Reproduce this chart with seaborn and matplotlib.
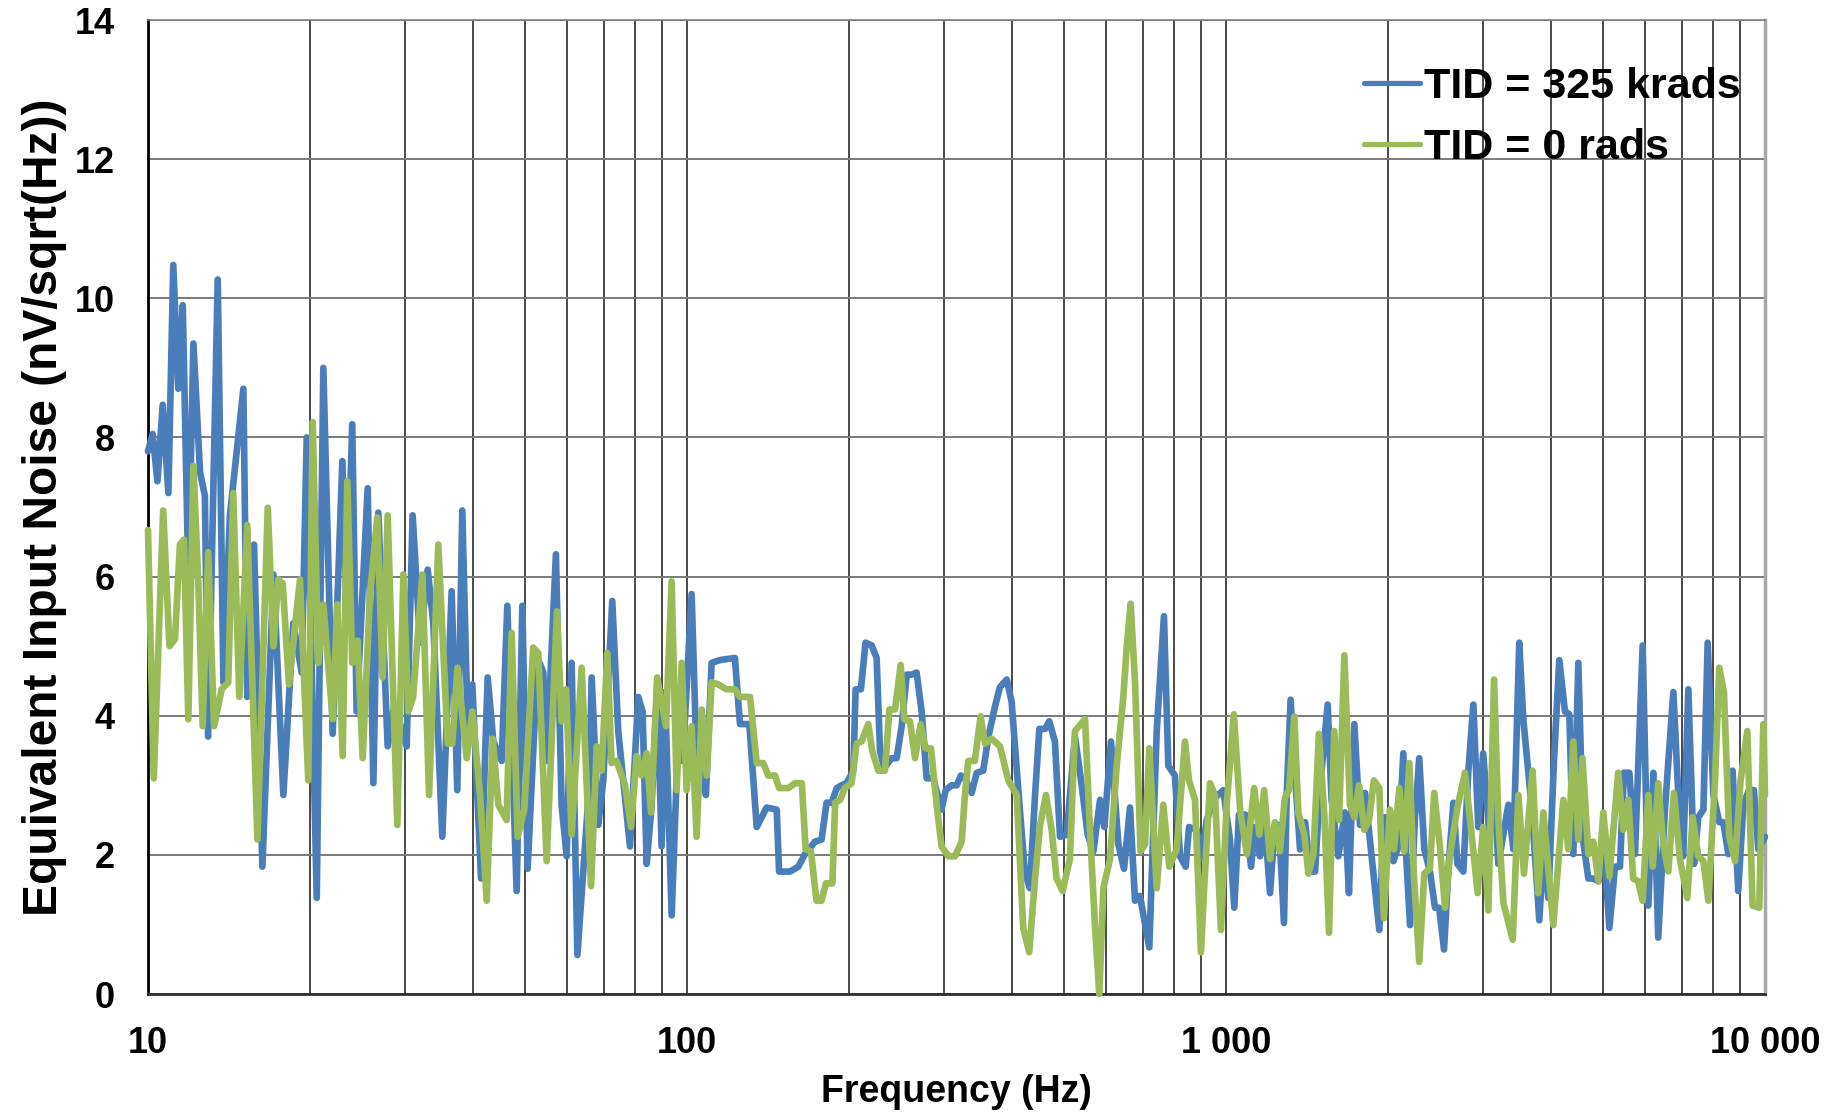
import pandas as pd
import matplotlib
matplotlib.use("Agg")
import matplotlib.pyplot as plt
import seaborn as sns
from matplotlib.ticker import FixedLocator, NullFormatter

# TID = 325 krads (blue)
blue_freq = [10.0, 10.2, 10.41, 10.65, 10.91, 11.14, 11.38, 11.6, 11.88, 12.14, 12.49, 12.75, 12.93, 13.47, 13.8,
             14.19, 15.03, 15.28, 15.73, 16.3, 17.09, 17.83, 18.6, 19.28, 19.7, 20.56, 21.15, 22.01, 22.94, 23.37,
             23.93, 24.38, 25.56, 26.19, 26.75, 27.84, 28.64, 30.19, 30.97, 31.97, 33.03, 33.83, 35.16, 36.59, 37.48,
             38.29, 39.18, 39.97, 41.49, 42.68, 43.72, 45.31, 46.41, 48.3, 49.49, 50.62, 52.84, 54.13, 54.91,
             57.12, 58.52, 59.81, 61.09, 62.61, 65.87, 66.55, 68.46, 69.93, 72.67, 74.54, 78.38, 81.21, 82.72, 84.17,
             85.98, 88.05, 89.72, 91.02, 93.66, 96.36, 98.17, 102.0, 104.2, 108.4, 111.1, 115.1, 122.7, 125.4, 130.5,
             134.7, 140.5, 146.7, 148.2, 155.3, 160.9, 165.5, 172.8, 177.7, 181.5, 185.5, 189.6, 193.6, 197.7, 203.5,
             205.5, 210.2, 214.4, 220.1, 224.8, 228.1, 232.3, 239.7, 244.9, 250.2, 255.6, 261.1, 266.7, 272.5, 278.4,
             286.4, 296.7, 301.9, 309.8, 316.5, 322.3, 327.9, 337.4, 344.8, 354.5, 362.4, 372.7, 380.7, 391.9, 400.2,
             411.8, 423.7, 432.7, 442.3, 450.5, 461.6, 470.0, 481.5, 492.1, 506.2, 524.5, 539.9, 553.8, 567.5, 583.9,
             594.8, 611.8, 631.4, 646.8, 663.5, 678.0, 692.4, 720.6, 743.8, 767.2, 781.6, 803.9, 821.6, 841.7, 854.0,
             882.3, 901.0, 920.9, 954.0, 988.7, 1017, 1036, 1057, 1085, 1113, 1132, 1156, 1181, 1207, 1232, 1254,
             1281, 1296, 1318, 1343, 1372, 1402, 1432, 1463, 1494, 1544, 1570, 1616, 1662, 1691, 1730, 1773, 1811,
             1925, 1963, 2015, 2044, 2089, 2133, 2157, 2195, 2242, 2283, 2333, 2390, 2442, 2486, 2538, 2586, 2642,
             2687, 2756, 2816, 2877, 2938, 3000, 3080, 3156, 3201, 3341, 3413, 3500, 3561, 3665, 3744, 3813, 3890,
             3963, 4059, 4153, 4255, 4335, 4409, 4505, 4600, 4702, 4801, 4908, 5012, 5143, 5269, 5382, 5473, 5601,
             5738, 5930, 6075, 6208, 6338, 6521, 6760, 6903, 7051, 7207, 7384, 7520, 7686, 7828, 8020, 8225, 8368,
             8551, 8707, 8920, 9116, 9337, 9537, 9720, 10000]
blue_noise = [7.8, 8.05, 7.37, 8.47, 7.2, 10.48, 8.7, 9.9, 6.0, 9.35, 7.5, 7.16, 3.7, 10.27, 4.48,
              6.88, 8.7, 4.27, 6.46, 1.83, 6.03, 2.86, 5.33, 4.62, 8.0, 1.38, 9.0, 3.74, 7.66, 5.5,
              8.19, 4.06, 7.27, 3.03, 6.92, 3.56, 4.16, 3.56, 6.88, 5.05, 6.1, 5.33, 2.26, 5.79, 2.93,
              6.95, 3.81, 4.45, 1.66, 4.55, 3.63, 3.35, 5.58, 1.48, 5.58, 1.8, 4.83, 4.62, 3.35,
              6.32, 2.72, 1.98, 4.76, 0.56, 3.0, 4.55, 2.43, 3.07, 5.65, 3.78, 2.12, 4.27, 4.06, 1.87,
              2.72, 4.41, 2.12, 4.34, 1.13, 3.78, 3.35, 5.75, 3.35, 2.86, 4.76, 4.8, 4.83, 3.88, 3.88,
              2.4, 2.68, 2.65, 1.76, 1.76, 1.83, 2.01, 2.19, 2.22, 2.75, 2.75, 2.96, 3.0, 3.03, 3.21,
              4.38, 4.38, 5.05, 5.01, 4.83, 3.49, 3.25, 3.39, 3.39, 3.85, 4.59, 4.59, 4.62, 4.06, 3.1,
              3.1, 2.65, 2.93, 3.0, 3.0, 3.14, 3.1, 2.89, 3.18, 3.21, 3.7, 4.13, 4.41, 4.52, 4.2,
              2.93, 1.73, 1.52, 2.86, 3.81, 3.81, 3.92, 3.63, 2.26, 2.29, 3.7, 3.0, 2.29, 2.05, 2.79,
              2.4, 3.63, 2.15, 1.8, 2.68, 1.34, 1.41, 0.67, 3.78, 5.43, 3.28, 3.14, 1.98, 1.83, 2.4,
              2.36, 1.94, 2.5, 2.82, 2.93, 2.22, 1.24, 2.58, 2.58, 1.83, 2.4, 1.98, 2.43, 1.45, 2.43, 2.43,
              1.02, 2.86, 4.23, 3.14, 2.08, 2.47, 1.76, 1.76, 2.96, 4.16, 2.79, 1.98, 2.61, 1.45, 3.88, 2.43, 2.89,
              0.92, 2.54, 2.54, 1.91, 2.12, 3.46, 2.05, 0.99, 2.54, 3.39, 2.08, 1.76, 1.24, 1.24, 0.64, 1.8, 2.75,
              1.87, 1.76, 3.21, 4.16, 2.4, 3.46, 2.29, 2.75, 1.87, 2.72, 2.08, 5.05, 3.95, 2.93, 1.98, 1.06, 2.19,
              1.38, 3.35, 4.8, 4.06, 4.02, 2.01, 4.76, 2.19, 1.66, 1.66, 1.62, 2.26, 0.95, 1.83, 1.83, 3.18, 3.18,
              2.01, 5.01, 1.27, 3.18, 0.81, 2.65, 4.34, 2.89, 1.98, 4.38, 1.87, 2.54, 2.65, 5.05, 2.86, 2.47, 2.47,
              2.01, 3.21, 1.48, 2.72, 2.93, 2.93, 2.08, 2.26]

# TID = 0 rads (green)
green_freq = [10.0, 10.25, 10.67, 10.96, 11.22, 11.46, 11.66, 11.88, 12.14, 12.4, 12.63, 12.93, 13.26, 13.7, 14.09,
              14.39, 14.77, 15.28, 15.96, 16.68, 17.09, 17.45, 17.78, 18.26, 19.14, 19.83, 20.21, 20.7, 21.15, 22.01,
              22.45, 22.97, 23.43, 23.93, 24.48, 25.02, 25.82, 26.63, 27.24, 27.84, 29.01, 29.77, 30.4, 31.04, 32.29,
              33.22, 34.56, 35.97, 36.68, 37.52, 39.02, 39.97, 41.32, 42.5, 43.6, 44.66, 46.28, 47.28, 48.51, 49.9,
              51.84, 52.99, 54.91, 57.37, 58.52, 59.65, 61.09, 63.76, 66.37, 68.0, 69.44, 71.14, 72.45, 74.01, 76.74,
              78.71, 80.64, 82.37, 84.17, 85.74, 88.05, 91.39, 93.66, 95.68, 97.77, 99.85, 102.0, 104.2, 106.5, 108.8,
              111.1, 114.3, 118.4, 122.7, 125.4, 130.9, 134.7, 138.5, 141.5, 145.6, 148.2, 154.2, 158.6, 163.3, 166.0,
              169.8, 173.9, 177.7, 181.0, 186.1, 188.3, 192.3, 196.3, 202.0, 206.4, 210.8, 216.9, 220.7, 226.5, 232.9,
              237.4, 243.2, 249.1, 253.0, 259.2, 264.9, 271.3, 277.1, 283.6, 290.5, 296.7, 305.4, 314.2, 323.3, 327.8,
              332.6, 342.0, 350.5, 357.3, 367.5, 380.7, 394.5, 409.0, 420.5, 431.4, 442.3, 452.0, 463.5, 474.8, 485.0,
              497.6, 513.3, 524.5, 547.6, 559.2, 571.7, 582.0, 592.2, 609.3, 626.9, 644.9, 654.2, 665.4, 678.0, 694.3,
              707.5, 720.6, 743.8, 765.0, 785.0, 809.9, 839.2, 853.8, 876.0, 898.5, 913.9, 934.0, 954.0, 978.7, 1003,
              1034, 1062, 1093, 1128, 1153, 1177, 1207, 1232, 1259, 1286, 1309, 1339, 1362, 1397, 1422, 1453, 1487,
              1522, 1553, 1588, 1621, 1658, 1698, 1730, 1765, 1806, 1842, 1881, 1925, 1963, 2015, 2049, 2097, 2142,
              2188, 2233, 2283, 2333, 2390, 2434, 2494, 2549, 2605, 2687, 2775, 2856, 2930, 3000, 3067, 3143, 3201,
              3271, 3404, 3487, 3571, 3706, 3796, 3879, 4048, 4225, 4316, 4409, 4505, 4586, 4702, 4801, 4908, 5012,
              5143, 5342, 5460, 5577, 5695, 5816, 5930, 6075, 6190, 6338, 6475, 6616, 6777, 6951, 7177, 7342, 7520,
              7686, 7851, 8077, 8225, 8392, 8585, 8798, 9010, 9272, 9485, 9759, 9929, 10000]
green_noise = [6.67, 3.1, 6.95, 5.0, 5.1, 6.46, 6.53, 3.95, 7.59, 5.9, 3.85, 6.35, 3.85, 4.38, 4.48,
               7.2, 4.27, 6.74, 2.22, 6.99, 5.0, 5.96, 5.9, 4.45, 5.96, 3.07, 8.22, 4.76, 5.6, 3.95,
               5.6, 3.42, 7.37, 4.76, 5.08, 3.39, 5.75, 6.85, 4.55, 6.88, 2.43, 6.03, 4.06, 4.27, 6.03,
               2.86, 6.46, 3.6, 3.6, 4.69, 3.39, 4.06, 2.86, 1.34, 3.67, 2.72, 2.5, 5.19, 2.26, 2.65,
               4.98, 4.9, 1.91, 5.5, 3.92, 4.38, 2.29, 4.69, 1.55, 3.56, 3.21, 4.9, 3.32, 3.35, 3.0,
               2.4, 3.42, 3.14, 3.46, 2.61, 4.55, 3.85, 5.93, 2.93, 4.76, 2.93, 3.85, 2.26, 4.09, 3.14,
               4.48, 4.45, 4.38, 4.38, 4.27, 4.27, 3.32, 3.32, 3.14, 3.14, 2.96, 2.96, 3.03, 3.03, 2.08,
               2.05, 1.34, 1.34, 1.59, 1.59, 2.75, 2.79, 2.96, 3.03, 3.6, 3.63, 3.88, 3.49, 3.21, 3.21,
               4.09, 4.09, 4.73, 3.95, 3.92, 3.39, 3.88, 3.53, 3.53, 2.72, 2.12, 1.98, 1.98, 2.19, 2.86,
               3.35, 3.35, 3.99, 3.6, 3.67, 3.56, 3.07, 2.86, 0.95, 0.6, 1.66, 2.43, 2.86, 2.36, 1.66,
               1.48, 1.94, 3.78, 3.95, 2.36, 0.95, 0.0, 1.52, 1.94, 3.28, 4.27, 4.98, 5.61, 4.48, 2.05,
               2.15, 3.53, 1.52, 2.72, 1.83, 2.08, 3.63, 3.07, 2.79, 0.6, 1.73, 3.03, 2.86, 0.92, 2.72,
               4.02, 2.65, 2.01, 2.96, 2.29, 2.93, 1.94, 2.47, 2.05, 2.82, 2.93, 3.99, 2.61, 2.29, 1.73, 2.01, 3.74,
               2.58, 0.88, 3.78, 2.5, 4.87, 2.72, 2.54, 3.0, 2.36, 2.5, 3.07, 2.96, 1.09, 2.65, 2.08, 2.96, 2.05,
               3.32, 1.66, 0.46, 1.73, 1.8, 2.89, 2.12, 1.24, 2.01, 2.68, 3.18, 2.29, 1.45, 2.4, 1.2, 4.52, 2.5,
               1.31, 0.78, 2.86, 1.73, 3.21, 1.45, 2.61, 0.99, 2.79, 2.08, 3.63, 2.22, 3.39, 2.01, 2.19, 1.62, 2.61,
               1.69, 3.18, 2.36, 2.79, 1.66, 1.62, 1.34, 2.86, 1.83, 3.03, 2.15, 1.76, 2.89, 1.94, 1.38, 2.54, 1.98,
               1.91, 1.34, 3.07, 4.69, 4.34, 2.26, 1.91, 3.07, 3.78, 1.27, 1.24, 3.88, 2.86]

series_names = ["TID = 325 krads", "TID = 0 rads"]
series_colors = ["#4A7EBB", "#9BBB59"]
x_ticks = [10, 100, 1000, 10000]
x_tick_labels = ["10", "100", "1 000", "10 000"]
y_ticks = [0, 2, 4, 6, 8, 10, 12, 14]

df = pd.concat([
    pd.DataFrame({"Frequency": blue_freq, "Noise": blue_noise, "Series": series_names[0]}),
    pd.DataFrame({"Frequency": green_freq, "Noise": green_noise, "Series": series_names[1]}),
], ignore_index=True)

sns.set_style("white")
plt.rcParams["font.family"] = ["Liberation Sans", "DejaVu Sans"]
plt.rcParams["font.weight"] = "bold"
plt.rcParams["text.color"] = "black"
plt.rcParams["axes.labelcolor"] = "black"
plt.rcParams["xtick.color"] = "black"
plt.rcParams["ytick.color"] = "black"

fig = plt.figure(figsize=(18.45, 11.17), dpi=100)
ax = fig.add_axes([148 / 1845, 1 - 994 / 1117, 1617 / 1845, 974 / 1117])

sns.lineplot(data=df, x="Frequency", y="Noise", hue="Series", hue_order=series_names,
             palette=series_colors, estimator=None, sort=False, linewidth=4.8, ax=ax,
             clip_on=False, zorder=3)

ax.set_xscale("log")
ax.set_xlim(10, 10000)
ax.set_ylim(0, 14)

# gridlines: every decade subdivision on x, every 2 on y
ax.xaxis.set_major_locator(FixedLocator(x_ticks))
ax.set_xticklabels(x_tick_labels)
minor = [m * d for d in (10, 100, 1000) for m in range(2, 10)]
ax.xaxis.set_minor_locator(FixedLocator(minor))
ax.xaxis.set_minor_formatter(NullFormatter())
ax.set_yticks(y_ticks)
ax.grid(which="both", axis="x", color="#2a2a2a", linewidth=1.2)
ax.grid(which="major", axis="y", color="#7a7a7a", linewidth=1.4)
ax.set_axisbelow(True)

ax.tick_params(axis="both", which="both", length=0, labelsize=26)
ax.tick_params(axis="y", pad=24)
ax.tick_params(axis="x", pad=23)
for lab in ax.get_xticklabels() + ax.get_yticklabels():
    lab.set_fontweight("bold")

ax.spines["left"].set_color("black")
ax.spines["left"].set_linewidth(2)
ax.spines["bottom"].set_color("#303030")
ax.spines["bottom"].set_linewidth(2)
ax.spines["top"].set_color("#808080")
ax.spines["top"].set_linewidth(1.2)
ax.spines["right"].set_color("#a8a8a8")
ax.spines["right"].set_linewidth(2.5)

ax.set_xlabel("Frequency (Hz)", fontsize=27, fontweight="bold")
ax.set_ylabel("Equivalent Input Noise (nV/sqrt(Hz))", fontsize=34.5, fontweight="bold")
ax.xaxis.set_label_coords(0.5, -0.082)
ax.yaxis.set_label_coords(-0.05, 0.5)

handles, labels = ax.get_legend_handles_labels()
leg = ax.legend(handles, labels, loc="upper right", bbox_to_anchor=(0.985, 0.952),
                frameon=False, prop={"size": 31, "weight": "bold"},
                handlelength=1.3, handletextpad=0.1, labelspacing=0.5,
                borderpad=0, borderaxespad=0)
for line in leg.get_lines():
    line.set_linewidth(3.8)

fig.savefig("out.png", dpi=100)
